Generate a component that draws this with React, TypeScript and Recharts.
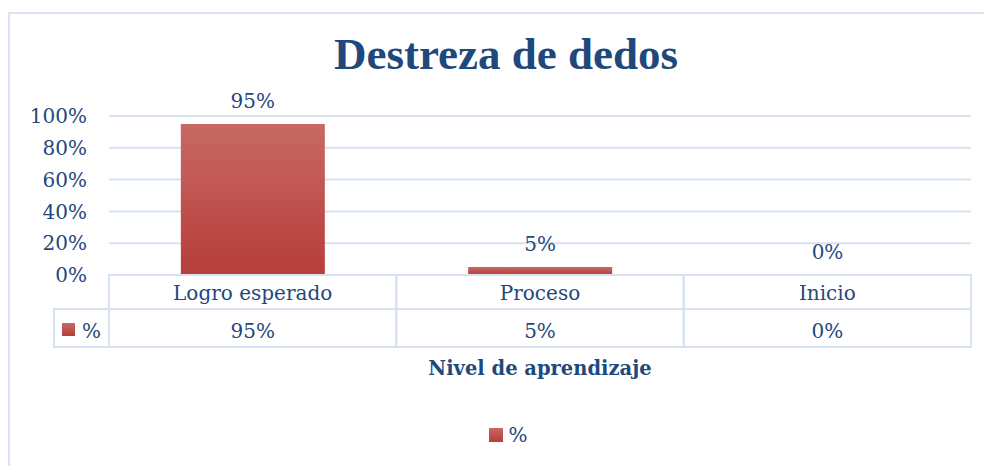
import { BarChart, Bar, XAxis, YAxis, CartesianGrid, LabelList, Legend } from 'recharts'

const categories = ['Logro esperado', 'Proceso', 'Inicio']
const percentValues = [0.95, 0.05, 0]
const yTicks = [0, 0.2, 0.4, 0.6, 0.8, 1]
const seriesName = '%'
const chartTitle = 'Destreza de dedos'
const axisTitle = 'Nivel de aprendizaje'

const data = categories.map((name, i) => ({ name, value: percentValues[i] }))

const W = 984
const H = 466
const FONT = '"DejaVu Serif", "Liberation Serif", serif'
const TITLE_FONT = '"Liberation Serif", "DejaVu Serif", serif'
const TEXT = '#1F497D'
const LINE = '#d6e2f1'
const MARGIN = { top: 116, right: 13, left: 0, bottom: 21 }
const Y_W = 109
const X_H = 150
const LEGEND_H = 20
const COL_W = (W - Y_W - MARGIN.right) / categories.length
const ROW1 = 34
const ROW2 = 38

const pct = (v: number) => `${Math.round(v * 100)}%`

function BarGradient({ id }: { id: string }) {
  return (
    <defs>
      <linearGradient id={id} x1="0" y1="0" x2="0" y2="1">
        <stop offset="0%" stopColor="#c86964" />
        <stop offset="100%" stopColor="#b73d3a" />
      </linearGradient>
    </defs>
  )
}

// category axis drawn as the data table under the plot
function TableTick(props: any) {
  const { x, y, payload, index } = props
  const left = x - COL_W / 2
  const textProps = { fill: TEXT, fontSize: 20, fontFamily: FONT, textAnchor: 'middle' as const }
  return (
    <g>
      <rect x={left} y={y} width={COL_W} height={ROW1} fill="none" stroke={LINE} strokeWidth={2} />
      <rect x={left} y={y + ROW1} width={COL_W} height={ROW2} fill="none" stroke={LINE} strokeWidth={2} />
      <text x={x} y={y + 25} {...textProps}>{payload.value}</text>
      <text x={x} y={y + 63} {...textProps}>{pct(percentValues[index])}</text>
      {index === 0 && (
        <g>
          <rect x={left - 55} y={y + ROW1} width={55} height={ROW2} fill="none" stroke={LINE} strokeWidth={2} />
          <rect x={left - 47} y={y + 48} width={13} height={13} fill="url(#barFill)" />
          <text x={left - 27} y={y + 63} fill={TEXT} fontSize={20} fontFamily={FONT}>{seriesName}</text>
        </g>
      )}
    </g>
  )
}

function TopLabel(props: any) {
  const { x, y, width, value } = props
  return (
    <text x={x + width / 2} y={y - 16} textAnchor="middle" fill={TEXT} fontSize={20} fontFamily={FONT}>
      {pct(value)}
    </text>
  )
}

function LegendBox() {
  return (
    <div style={{ display: 'flex', justifyContent: 'center', alignItems: 'center', height: LEGEND_H, paddingLeft: 46, fontFamily: FONT, fontSize: 20, color: TEXT }}>
      <svg width={14} height={14}>
        <BarGradient id="legFill" />
        <rect width={14} height={14} fill="url(#legFill)" />
      </svg>
      <span style={{ marginLeft: 5 }}>{seriesName}</span>
    </div>
  )
}

export default function App() {
  return (
    <div style={{ position: 'absolute', left: 0, top: 0, width: W, height: H, overflow: 'hidden', background: '#fff' }}>
      <div style={{ position: 'absolute', left: 8, top: 12, width: 1010, height: 520, border: '2px solid #d8e4f3' }} />
      <div style={{ position: 'absolute', left: 0, top: 28, width: 1012, textAlign: 'center', fontFamily: TITLE_FONT, fontWeight: 'bold', fontSize: 45, color: TEXT }}>
        {chartTitle}
      </div>
      <div style={{ position: 'absolute', left: 0, top: 0 }}>
        <BarChart width={W} height={H} data={data} margin={MARGIN} barCategoryGap="25%">
          <BarGradient id="barFill" />
          <CartesianGrid vertical={false} stroke={LINE} strokeWidth={2} />
          <YAxis
            width={Y_W}
            domain={[0, 1]}
            ticks={yTicks}
            tickFormatter={pct}
            axisLine={false}
            tickLine={false}
            tickSize={0}
            tickMargin={22}
            tick={{ fill: TEXT, fontSize: 20, fontFamily: FONT }}
          />
          <XAxis
            dataKey="name"
            height={X_H}
            axisLine={false}
            tickLine={false}
            tickSize={0}
            tickMargin={0}
            interval={0}
            tick={<TableTick />}
            label={{ value: axisTitle, position: 'insideBottom', offset: 50, fill: TEXT, fontSize: 19.5, fontWeight: 'bold', fontFamily: FONT }}
          />
          <Legend verticalAlign="bottom" height={LEGEND_H} content={<LegendBox />} />
          <Bar dataKey="value" name={seriesName} fill="url(#barFill)" minPointSize={0.001} isAnimationActive={false}>
            <LabelList dataKey="value" content={<TopLabel />} />
          </Bar>
        </BarChart>
      </div>
    </div>
  )
}
